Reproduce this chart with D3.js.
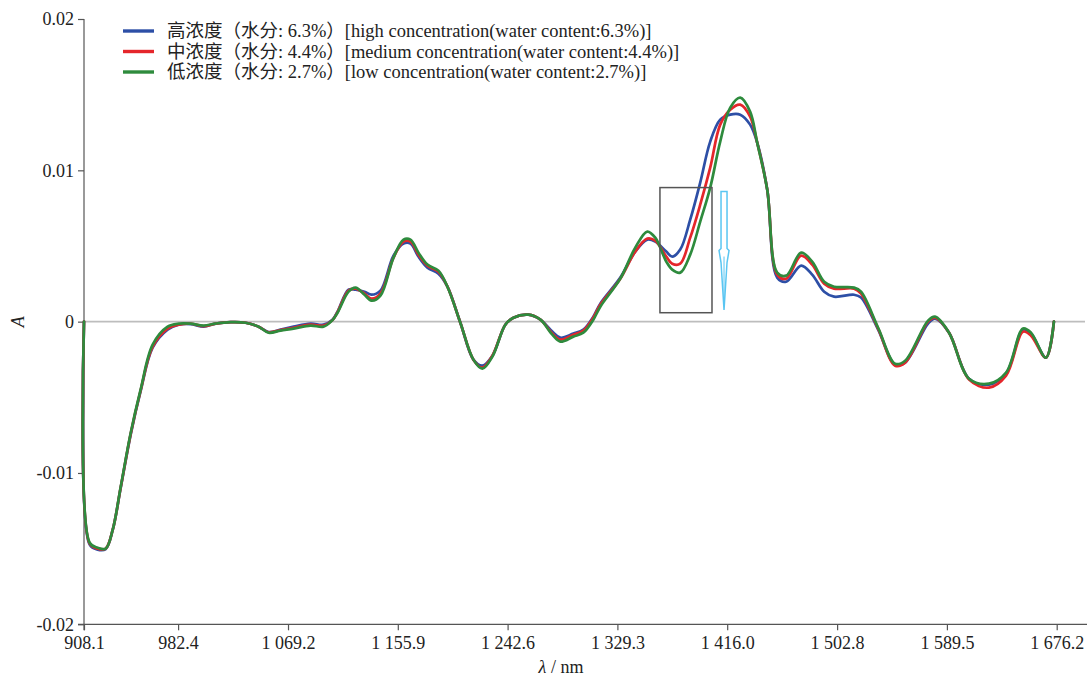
<!DOCTYPE html>
<html>
<head>
<meta charset="utf-8">
<script src="https://cdn.jsdelivr.net/npm/d3@7"></script>
<style>
  html, body { margin: 0; padding: 0; background: #fff; }
  svg { display: block; }
  text { font-family: "Liberation Serif", "Noto Sans CJK SC", serif; fill: #222; }
</style>
</head>
<body>
<svg id="chart" width="1087" height="677"></svg>
<script>
// Wavelength (nm) of each sample
const wavelengths = [
  908.1, 912.6, 918.9, 925.2, 930.8, 937.1, 945.0, 952.8, 962.3, 974.1,
  982.8, 992.3, 1002.6, 1012.0, 1023.9, 1035.7, 1046.0, 1053.8, 1063.3, 1073.6,
  1087.0, 1097.2, 1104.3, 1108.3, 1117.0, 1122.5, 1129.6, 1135.1, 1142.2, 1152.5,
  1160.4, 1165.9, 1172.2, 1179.3, 1188.0, 1195.1, 1205.3, 1215.6, 1222.7, 1230.6,
  1240.8, 1247.2, 1259.0, 1268.5, 1277.9, 1284.2, 1294.5, 1302.4, 1310.3, 1315.8,
  1331.6, 1343.4, 1352.9, 1359.2, 1367.9, 1372.6, 1378.9, 1386.8, 1394.7, 1402.6,
  1410.5, 1418.4, 1426.3, 1434.1, 1439.7, 1447.6, 1455.5, 1462.6, 1474.4, 1483.1,
  1492.6, 1500.4, 1516.2, 1521.7, 1535.2, 1548.6, 1556.5, 1574.6, 1580.1, 1591.2,
  1607.0, 1622.7, 1636.2, 1649.6, 1655.9, 1667.7, 1674.0
];

// Absorbance A, high concentration (water 6.3%)
const highValues = [
  0, -0.01474, -0.01507, -0.01503, -0.01375, -0.01098, -0.00745, -0.00460, -0.00172, -0.00053,
  -0.00020, -0.00016, -0.00033, -0.00013, -0.00003, -0.00007, -0.00033, -0.00069, -0.00053, -0.00033,
  -0.00013, -0.00020, 0.00013, 0.00066, 0.00211, 0.00211, 0.00198, 0.00178, 0.00205, 0.00436,
  0.00516, 0.00516, 0.00430, 0.00357, 0.00317, 0.00231, -0.00007, -0.00251, -0.00291, -0.00225,
  -0.00020, 0.00026, 0.00046, 0.00013, -0.00066, -0.00106, -0.00079, -0.00053, 0.00033, 0.00119,
  0.00291, 0.00463, 0.00542, 0.00529, 0.00463, 0.00430, 0.00476, 0.00674, 0.00919, 0.01190,
  0.01335, 0.01368, 0.01368, 0.01302, 0.01183, 0.00873, 0.00291, 0.00264, 0.00370, 0.00311,
  0.00198, 0.00165, 0.00178, 0.00159, -0.00053, -0.00284, -0.00271, -0.00013, 0.00020, -0.00073,
  -0.00377, -0.00416, -0.00344, -0.00053, -0.00079, -0.00238, 0
];

// Absorbance A, medium concentration (water 4.4%)
const mediumValues = [
  0, -0.01467, -0.01500, -0.01500, -0.01375, -0.01095, -0.00740, -0.00455, -0.00165, -0.00046,
  -0.00020, -0.00013, -0.00030, -0.00013, -0.00003, -0.00007, -0.00033, -0.00070, -0.00056, -0.00040,
  -0.00020, -0.00026, 0.00010, 0.00063, 0.00205, 0.00218, 0.00185, 0.00152, 0.00185, 0.00423,
  0.00529, 0.00529, 0.00443, 0.00370, 0.00330, 0.00231, -0.00007, -0.00251, -0.00304, -0.00225,
  -0.00020, 0.00026, 0.00046, 0.00013, -0.00079, -0.00119, -0.00086, -0.00059, 0.00026, 0.00112,
  0.00284, 0.00463, 0.00549, 0.00535, 0.00430, 0.00383, 0.00383, 0.00555, 0.00773, 0.01018,
  0.01302, 0.01401, 0.01434, 0.01355, 0.01183, 0.00873, 0.00311, 0.00284, 0.00436, 0.00377,
  0.00251, 0.00218, 0.00218, 0.00185, -0.00046, -0.00291, -0.00271, 0.00000, 0.00026, -0.00073,
  -0.00383, -0.00436, -0.00357, -0.00066, -0.00093, -0.00238, 0
];

// Absorbance A, low concentration (water 2.7%)
const lowValues = [
  0, -0.01461, -0.01494, -0.01500, -0.01375, -0.01091, -0.00734, -0.00449, -0.00152, -0.00033,
  -0.00013, -0.00013, -0.00026, -0.00013, -0.00003, -0.00007, -0.00033, -0.00073, -0.00059, -0.00046,
  -0.00026, -0.00033, 0.00010, 0.00059, 0.00198, 0.00225, 0.00178, 0.00139, 0.00172, 0.00423,
  0.00542, 0.00542, 0.00456, 0.00377, 0.00337, 0.00231, -0.00007, -0.00251, -0.00311, -0.00231,
  -0.00020, 0.00026, 0.00046, 0.00013, -0.00086, -0.00132, -0.00099, -0.00073, 0.00013, 0.00099,
  0.00284, 0.00489, 0.00595, 0.00555, 0.00397, 0.00344, 0.00324, 0.00443, 0.00661, 0.00886,
  0.01190, 0.01414, 0.01480, 0.01388, 0.01183, 0.00873, 0.00324, 0.00304, 0.00456, 0.00397,
  0.00264, 0.00231, 0.00225, 0.00198, -0.00040, -0.00278, -0.00258, 0.00007, 0.00033, -0.00073,
  -0.00377, -0.00410, -0.00337, -0.00046, -0.00073, -0.00238, 0
];

const seriesNames = [
  "高浓度（水分: 6.3%）[high concentration(water content:6.3%)]",
  "中浓度（水分: 4.4%）[medium concentration(water content:4.4%)]",
  "低浓度（水分: 2.7%）[low concentration(water content:2.7%)]"
];
const seriesColors = ["#2d4fa6", "#e5262b", "#2e8b3d"];

const xTickValues = [908.1, 982.4, 1069.2, 1155.9, 1242.6, 1329.3, 1416.0, 1502.8, 1589.5, 1676.2];
const xTickLabels = ["908.1", "982.4", "1 069.2", "1 155.9", "1 242.6", "1 329.3", "1 416.0", "1 502.8", "1 589.5", "1 676.2"];
const yTickValues = [-0.02, -0.01, 0, 0.01, 0.02];
const yTickLabels = ["-0.02", "-0.01", "0", "0.01", "0.02"];

// Highlighted band (nm, A) and the downward arrow beside it
const boxBand = { x0: 1362.9, x1: 1404.0, y0: 0.00059, y1: 0.00886 };
const arrowSpec = { x: 1413.5, top: 0.0086, neck: 0.0047, tip: 0.00078 };

const serif = "'Liberation Serif', 'Noto Sans CJK SC', serif";
const svg = d3.select("#chart");
const W = 1087;

const x = d3.scaleLinear().domain([908.1, 1676.2]).range([84, 1056.7]);
const y = d3.scaleLinear().domain([-0.02, 0.02]).range([624.3, 19]);

// Zero reference line
svg.append("line")
  .attr("x1", x(908.1)).attr("x2", 1085)
  .attr("y1", y(0)).attr("y2", y(0))
  .attr("stroke", "#bdbdbd").attr("stroke-width", 1.6);

// Y axis
const yAxis = d3.axisLeft(y)
  .tickValues(yTickValues)
  .tickFormat((d, i) => yTickLabels[i])
  .tickSize(6).tickSizeOuter(0).tickPadding(4);
const gy = svg.append("g").attr("transform", `translate(${x(908.1)},0)`).call(yAxis)
  .attr("font-family", serif).attr("font-size", 18);
gy.select(".domain").remove();
gy.selectAll(".tick line").attr("stroke", "#555").attr("stroke-width", 1.2);
gy.selectAll(".tick text").attr("fill", "#222");
svg.append("line")
  .attr("x1", x(908.1)).attr("x2", x(908.1))
  .attr("y1", y(0.02)).attr("y2", y(-0.02) + 6)
  .attr("stroke", "#555").attr("stroke-width", 1.2);

// X axis
const xAxis = d3.axisBottom(x)
  .tickValues(xTickValues)
  .tickFormat((d, i) => xTickLabels[i])
  .tickSize(6).tickSizeOuter(0).tickPadding(6);
const gx = svg.append("g").attr("transform", `translate(0,${y(-0.02)})`).call(xAxis)
  .attr("font-family", serif).attr("font-size", 18);
gx.select(".domain").remove();
gx.selectAll(".tick line").attr("stroke", "#555").attr("stroke-width", 1.2);
gx.selectAll(".tick text").attr("fill", "#222");
svg.append("line")
  .attr("x1", x(908.1) - 6).attr("x2", W)
  .attr("y1", y(-0.02)).attr("y2", y(-0.02))
  .attr("stroke", "#555").attr("stroke-width", 1.2);

// Axis titles
svg.append("text")
  .attr("transform", `translate(24,${y(0)}) rotate(-90)`)
  .attr("text-anchor", "middle")
  .attr("font-family", serif)
  .attr("font-style", "italic")
  .attr("font-size", 18)
  .text("A");

const xt = svg.append("text")
  .attr("x", 561).attr("y", 673)
  .attr("text-anchor", "middle")
  .attr("font-family", serif)
  .attr("font-size", 18);
xt.append("tspan").attr("font-style", "italic").text("λ");
xt.append("tspan").text(" / nm");

// Spectra
const allSeries = [highValues, mediumValues, lowValues];
const line = d3.line()
  .x((d, i) => x(wavelengths[i]))
  .y(d => y(d))
  .curve(d3.curveCatmullRom.alpha(0.5));

svg.append("g").selectAll("path")
  .data(allSeries)
  .join("path")
  .attr("d", d => line(d))
  .attr("fill", "none")
  .attr("stroke", (d, i) => seriesColors[i])
  .attr("stroke-width", 2.7)
  .attr("stroke-linejoin", "round")
  .attr("stroke-linecap", "round");

// Highlight box
svg.append("rect")
  .attr("x", x(boxBand.x0))
  .attr("y", y(boxBand.y1))
  .attr("width", x(boxBand.x1) - x(boxBand.x0))
  .attr("height", y(boxBand.y0) - y(boxBand.y1))
  .attr("fill", "none")
  .attr("stroke", "#555")
  .attr("stroke-width", 1.5);

// Hollow downward arrow
const ax = x(arrowSpec.x), aTop = y(arrowSpec.top), aNeck = y(arrowSpec.neck), aTip = y(arrowSpec.tip);
const arrowPath = d3.path();
arrowPath.moveTo(ax - 3, aTop);
arrowPath.lineTo(ax + 3, aTop);
arrowPath.lineTo(ax + 3, aNeck - 2);
arrowPath.lineTo(ax + 5, aNeck);
arrowPath.lineTo(ax + 3, aNeck + 12);
arrowPath.lineTo(ax, aTip);
arrowPath.lineTo(ax - 3, aNeck + 12);
arrowPath.lineTo(ax - 5, aNeck);
arrowPath.lineTo(ax - 3, aNeck - 2);
arrowPath.closePath();
svg.append("path")
  .attr("d", arrowPath.toString())
  .attr("fill", "none")
  .attr("stroke", "#5ac6f2")
  .attr("stroke-width", 1.5)
  .attr("stroke-linejoin", "miter");
svg.append("line")
  .attr("x1", ax).attr("x2", ax)
  .attr("y1", aNeck + 6).attr("y2", aTip - 4)
  .attr("stroke", "#5ac6f2").attr("stroke-width", 1);

// Legend
const legend = svg.append("g").attr("transform", "translate(123,31)");
const rows = legend.selectAll("g")
  .data(seriesNames)
  .join("g")
  .attr("transform", (d, i) => `translate(0,${i * 20.5})`);
rows.append("line")
  .attr("x1", 0).attr("x2", 31)
  .attr("y1", 0).attr("y2", 0)
  .attr("stroke", (d, i) => seriesColors[i])
  .attr("stroke-width", 3.4);
rows.append("text")
  .attr("x", 44).attr("y", 0)
  .attr("dy", "0.35em")
  .attr("font-family", serif)
  .attr("font-size", 18.5)
  .text(d => d);
</script>
</body>
</html>
